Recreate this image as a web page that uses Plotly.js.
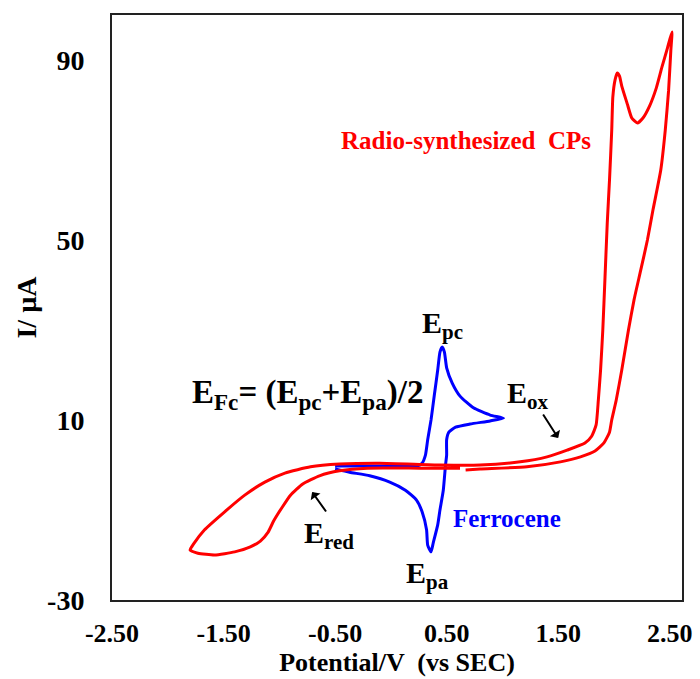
<!DOCTYPE html>
<html>
<head>
<meta charset="utf-8">
<script src="https://cdn.plot.ly/plotly-3.0.1.min.js"></script>
<style>body{margin:0;background:#fff}#chart{width:700px;height:679px}</style>
</head>
<body>
<div id="chart"></div>
<script>
// Radio-synthesized CPs cyclic voltammogram (potential V, current µA)
const cpPotential = [0.67, 0.80, 1.22, 1.52, 1.70, 1.83, 1.91, 1.96, 1.98, 2.02, 2.07, 2.13, 2.18, 2.24, 2.30, 2.35, 2.42, 2.46, 2.49, 2.51, 2.52,
  2.48, 2.43, 2.38, 2.32, 2.26, 2.21, 2.16, 2.12, 2.07, 2.05, 2.03, 2.01, 1.99, 1.98, 1.96, 1.94, 1.92, 1.90, 1.88, 1.86, 1.84, 1.80, 1.74,
  1.58, 1.40, 1.16, 0.80, 0.44, -0.10, -0.46, -0.72, -0.95, -1.13, -1.31, -1.49, -1.67, -1.77, -1.80,
  -1.73, -1.58, -1.40, -1.26, -1.17, -1.10, -1.05, -0.98, -0.90, -0.79, -0.64, -0.46, -0.21, 0.26, 0.62];
const cpCurrent = [-1.1, -0.9, -0.4, 0.7, 1.8, 3.1, 4.9, 7.3, 10.0, 14.4, 21.1, 30.0, 36.7, 43.3, 50.0, 56.7, 65.6, 74.4, 83.3, 92.2, 96.2,
  92.7, 88.4, 83.8, 79.8, 77.1, 76.0, 77.1, 80.2, 84.2, 86.4, 87.1, 85.6, 81.8, 74.4, 63.3, 53.8, 41.8, 30.0, 21.1, 14.4, 8.9, 6.4, 4.9,
  3.3, 1.8, 0.7, 0.0, 0.0, 0.4, 0.2, -0.4, -1.8, -3.8, -6.7, -10.4, -14.4, -17.6, -18.9,
  -19.6, -20.0, -19.3, -18.2, -16.9, -14.9, -12.4, -9.6, -6.7, -4.2, -2.4, -1.3, -0.7, -0.7, -0.7];

// Ferrocene cyclic voltammogram
const fcPotential = [-0.50, 0.08, 0.24, 0.28, 0.31, 0.33, 0.36, 0.39, 0.42, 0.44, 0.46, 0.48, 0.50, 0.55, 0.62, 0.74, 0.89, 1.01,
  0.89, 0.71, 0.58, 0.52, 0.50, 0.50, 0.49, 0.47, 0.44, 0.42, 0.38, 0.36, 0.33, 0.32, 0.28, 0.23, 0.13, -0.01, -0.19, -0.37, -0.50];
const fcCurrent = [-0.2, -0.2, -0.2, 0.4, 2.2, 5.6, 10.0, 15.6, 21.1, 25.1, 26.2, 25.1, 21.6, 18.2, 15.3, 12.7, 11.1, 10.4,
  9.8, 9.1, 8.4, 7.3, 5.6, 2.2, 0.0, -5.6, -10.0, -13.3, -17.3, -19.3, -17.8, -14.4, -10.4, -7.8, -5.6, -3.8, -2.4, -1.6, -0.9];

const xTickVals = [-2.5, -1.5, -0.5, 0.5, 1.5, 2.5];
const xTickText = ['-2.50', '-1.50', '-0.50', '0.50', '1.50', '2.50'];
const yTickVals = [-30, 10, 50, 90];
const yTickText = ['-30', '10', '50', '90'];

const serif = 'Liberation Serif, Times New Roman, serif';

const traces = [
  {x: fcPotential, y: fcCurrent, mode: 'lines', line: {color: '#0000ff', width: 3, shape: 'spline', smoothing: 0.5}, hoverinfo: 'skip'},
  {x: cpPotential, y: cpCurrent, mode: 'lines', line: {color: '#ff0000', width: 3, shape: 'spline', smoothing: 0.5}, hoverinfo: 'skip'}
];

const bigE = {family: serif, size: 30, color: '#000'};
const layout = {
  width: 700, height: 679,
  margin: {l: 112, r: 18, t: 15, b: 79},
  paper_bgcolor: '#fff', plot_bgcolor: '#fff',
  showlegend: false,
  font: {family: serif, color: '#000'},
  xaxis: {
    range: [-2.5, 2.61], showgrid: false, zeroline: false,
    showline: true, mirror: true, linecolor: '#222', linewidth: 2, ticks: '',
    tickvals: xTickVals, ticktext: xTickText,
    tickfont: {family: serif, size: 26, color: '#000', weight: 'bold'},
    ticklabelstandoff: 9,
    title: {text: '<b>Potential/V  (vs SEC)</b>', font: {family: serif, size: 26, color: '#000'}, standoff: 3}
  },
  yaxis: {
    range: [-30, 100], showgrid: false, zeroline: false,
    showline: true, mirror: true, linecolor: '#222', linewidth: 2, ticks: '',
    tickvals: yTickVals, ticktext: yTickText,
    tickfont: {family: serif, size: 28, color: '#000', weight: 'bold'},
    ticklabelstandoff: 20,
    title: {text: '<b>I/ µA</b>', font: {family: serif, size: 28, color: '#000'}, standoff: 2}
  },
  annotations: [
    {x: 0.675, y: 72.2, xref: 'x', yref: 'y', text: '<b>Radio-synthesized  CPs</b>', showarrow: false,
     font: {family: serif, size: 25, color: '#ff0000'}},
    {x: -1.80, y: 15.6, xref: 'x', yref: 'y', xanchor: 'left', text: '<b>E<sub>Fc</sub>= (E<sub>pc</sub>+E<sub>pa</sub>)/2</b>', showarrow: false,
     font: {family: serif, size: 33, color: '#000'}},
    {x: 0.46, y: 31.1, xref: 'x', yref: 'y', text: '<b>E<sub>pc</sub></b>', showarrow: false, font: bigE},
    {x: 1.23, y: 15.6, xref: 'x', yref: 'y', text: '<b>E<sub>ox</sub></b>', showarrow: false, font: bigE},
    {x: -0.554, y: -15.6, xref: 'x', yref: 'y', text: '<b>E<sub>red</sub></b>', showarrow: false, font: bigE},
    {x: 0.325, y: -24.4, xref: 'x', yref: 'y', text: '<b>E<sub>pa</sub></b>', showarrow: false, font: bigE},
    {x: 1.043, y: -11.8, xref: 'x', yref: 'y', text: '<b>Ferrocene</b>', showarrow: false, font: {family: serif, size: 25, color: '#0000ff'}},
    {x: 1.50, y: 6.0, xref: 'x', yref: 'y', ax: -16, ay: -25, text: '', showarrow: true, arrowhead: 1, arrowsize: 1, arrowwidth: 2, arrowcolor: '#000'},
    {x: -0.706, y: -6.0, xref: 'x', yref: 'y', ax: 15, ay: 21, text: '', showarrow: true, arrowhead: 1, arrowsize: 1, arrowwidth: 2, arrowcolor: '#000'}
  ]
};

Plotly.newPlot('chart', traces, layout, {displayModeBar: false, staticPlot: true});
</script>
</body>
</html>
